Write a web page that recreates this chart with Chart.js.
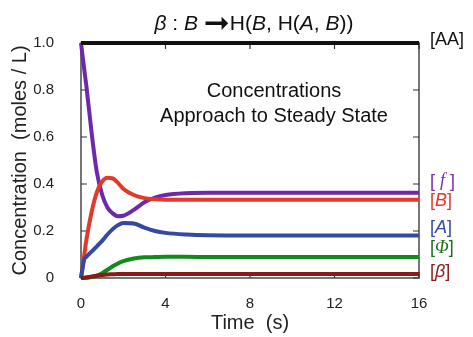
<!DOCTYPE html>
<html>
<head>
<meta charset="utf-8">
<script src="https://cdn.jsdelivr.net/npm/chart.js@4/dist/chart.umd.min.js"></script>
<style>
  html, body { margin: 0; padding: 0; background: #fff; }
  #wrap { width: 473px; height: 337px; }
</style>
</head>
<body>
<div id="wrap"><canvas id="kinetics" width="473" height="337"></canvas></div>
<script>
// time in seconds, concentrations in moles / L
const times    = [0, 0.15, 0.25, 0.5, 0.75, 1, 1.25, 1.5, 1.75, 2, 2.5, 3, 3.5, 4, 5, 6, 8, 10, 12, 14, 16];
const concAA   = [1, 1, 1, 1, 1, 1, 1, 1, 1, 1, 1, 1, 1, 1, 1, 1, 1, 1, 1, 1, 1];
const concF    = [1.0, 0.89, 0.82, 0.62, 0.45, 0.355, 0.30, 0.275, 0.263, 0.265, 0.29, 0.322, 0.342, 0.353, 0.361, 0.363, 0.363, 0.363, 0.363, 0.363, 0.363];
const concB    = [0, 0.095, 0.16, 0.28, 0.365, 0.41, 0.427, 0.424, 0.405, 0.38, 0.353, 0.34, 0.335, 0.333, 0.333, 0.333, 0.333, 0.333, 0.333, 0.333, 0.333];
const concA    = [0, 0.078, 0.09, 0.112, 0.135, 0.158, 0.185, 0.208, 0.225, 0.234, 0.232, 0.214, 0.2, 0.192, 0.185, 0.182, 0.181, 0.181, 0.181, 0.181, 0.181];
const concPhi  = [0, 0, 0.001, 0.004, 0.01, 0.02, 0.035, 0.05, 0.062, 0.072, 0.083, 0.088, 0.089, 0.09, 0.09, 0.089, 0.089, 0.089, 0.089, 0.089, 0.089];
const concBeta = [0, 0.001, 0.002, 0.006, 0.01, 0.013, 0.015, 0.016, 0.017, 0.017, 0.017, 0.017, 0.017, 0.017, 0.017, 0.017, 0.017, 0.017, 0.017, 0.017, 0.017];

const xTicks = [0, 4, 8, 12, 16];
const yTicks = [0, 0.2, 0.4, 0.6, 0.8, 1.0];

const SANS = '"Liberation Sans", Arial, sans-serif';
const SERIF = '"Liberation Serif", "Times New Roman", serif';
const SYMBOL = '"DejaVu Sans", sans-serif';

function pts(values) {
  return times.map((t, i) => ({ x: t, y: values[i] }));
}

// draws a line of text made of runs [text, italic, family, size, dy]
function drawRuns(ctx, runs, x, y, size, color, align) {
  const fontOf = r => (r[1] ? 'italic ' : '') + (r[3] || size) + 'px ' + (r[2] || SANS);
  let w = 0;
  runs.forEach(r => { ctx.font = fontOf(r); w += ctx.measureText(r[0]).width; });
  let cx = align === 'center' ? x - w / 2 : x;
  ctx.fillStyle = color;
  ctx.textAlign = 'left';
  runs.forEach(r => {
    ctx.font = fontOf(r);
    ctx.fillText(r[0], cx, y + (r[4] || 0));
    cx += ctx.measureText(r[0]).width;
  });
}

// end labels: [runs, colour, dataset values, pixel nudge]
const endLabels = [
  [[['[', 0], ['AA', 0], [']', 0]], '#111111', concAA, -3],
  [[['[ ', 0], ['f', 1, SERIF], [' ]', 0]], '#7a2ca8', concF, -11],
  [[['[', 0], ['B', 1], [']', 0]], '#e0392b', concB, 1],
  [[['[', 0], ['A', 1], [']', 0]], '#3548a8', concA, -7],
  [[['[', 0], ['Φ', 1, SERIF], [']', 0]], '#1d6e1d', concPhi, -9],
  [[['[', 0], ['β', 1], [']', 0]], '#8b1a1a', concBeta, -2]
];

const framePlugin = {
  id: 'frame',
  beforeDatasetsDraw(chart) {
    const { ctx, chartArea: a, scales: { x, y } } = chart;
    ctx.save();
    ctx.strokeStyle = '#5e5e5e';
    ctx.lineWidth = 1.7;
    ctx.strokeRect(a.left, a.top, a.right - a.left, a.bottom - a.top);
    ctx.strokeStyle = '#333333';
    ctx.lineWidth = 1.2;
    ctx.beginPath();
    xTicks.forEach(v => {
      const px = x.getPixelForValue(v);
      ctx.moveTo(px, a.bottom); ctx.lineTo(px, a.bottom - 6);
      ctx.moveTo(px, a.top); ctx.lineTo(px, a.top + 6);
    });
    yTicks.forEach(v => {
      const py = y.getPixelForValue(v);
      ctx.moveTo(a.left, py); ctx.lineTo(a.left + 6, py);
      ctx.moveTo(a.right, py); ctx.lineTo(a.right - 6, py);
    });
    ctx.stroke();
    ctx.restore();
  },
  afterDraw(chart) {
    const { ctx, chartArea: a, scales: { y } } = chart;
    ctx.save();
    ctx.textBaseline = 'alphabetic';
    drawRuns(ctx, [
      ['β', 1], [' : ', 0], ['B', 1], [' ', 0], ['➞', 0, SYMBOL, 31, 3], ['H(', 0],
      ['B', 1], [', H(', 0], ['A', 1], [', ', 0], ['B', 1], ['))', 0]
    ], 254, 30, 21, '#111111', 'center');

    drawRuns(ctx, [['Concentrations', 0]], 274, 97, 20, '#111111', 'center');
    drawRuns(ctx, [['Approach to Steady State', 0]], 274, 122, 20, '#111111', 'center');

    ctx.textBaseline = 'middle';
    endLabels.forEach(([runs, color, values, nudge]) => {
      const py = y.getPixelForValue(values[values.length - 1]) + nudge;
      drawRuns(ctx, runs, a.right + 11, py, 18, color, 'left');
    });
    ctx.restore();
  }
};

function series(label, values, color) {
  return {
    label: label,
    data: pts(values),
    borderColor: color,
    backgroundColor: color,
    borderWidth: 4,
    pointRadius: 0,
    cubicInterpolationMode: 'monotone',
    fill: false,
    clip: false
  };
}

new Chart(document.getElementById('kinetics'), {
  type: 'line',
  data: {
    datasets: [
      series('[AA]', concAA, '#111111'),
      series('[β]', concBeta, '#8a1a14'),
      series('[Φ]', concPhi, '#148a1c'),
      series('[A]', concA, '#3349a3'),
      series('[B]', concB, '#e23a2a'),
      series('[f]', concF, '#6e28aa')
    ]
  },
  options: {
    responsive: false,
    animation: false,
    events: [],
    layout: { padding: { left: 0, right: 54, top: 43, bottom: 0 } },
    plugins: {
      legend: { display: false },
      tooltip: { enabled: false }
    },
    scales: {
      x: {
        type: 'linear',
        min: 0,
        max: 16,
        grid: { display: false },
        border: { display: false },
        ticks: {
          stepSize: 4,
          padding: 9,
          color: '#222222',
          font: { family: SANS, size: 15 },
          maxRotation: 0
        },
        title: {
          display: true,
          text: 'Time  (s)',
          color: '#222222',
          font: { family: SANS, size: 20 },
          padding: { top: 0, bottom: 2 }
        },
        afterFit(scale) { scale.height = 59; }
      },
      y: {
        type: 'linear',
        min: 0,
        max: 1,
        grid: { display: false },
        border: { display: false },
        ticks: {
          stepSize: 0.2,
          padding: 19,
          color: '#222222',
          font: { family: SANS, size: 15 },
          callback: v => (Math.abs(v) < 1e-9 ? '0' : v.toFixed(1))
        },
        title: {
          display: true,
          text: 'Concentration  (moles / L)',
          color: '#222222',
          font: { family: SANS, size: 20 },
          padding: { top: 8, bottom: 0 }
        },
        afterFit(scale) { scale.width = 81; }
      }
    }
  },
  plugins: [framePlugin]
});
</script>
</body>
</html>
